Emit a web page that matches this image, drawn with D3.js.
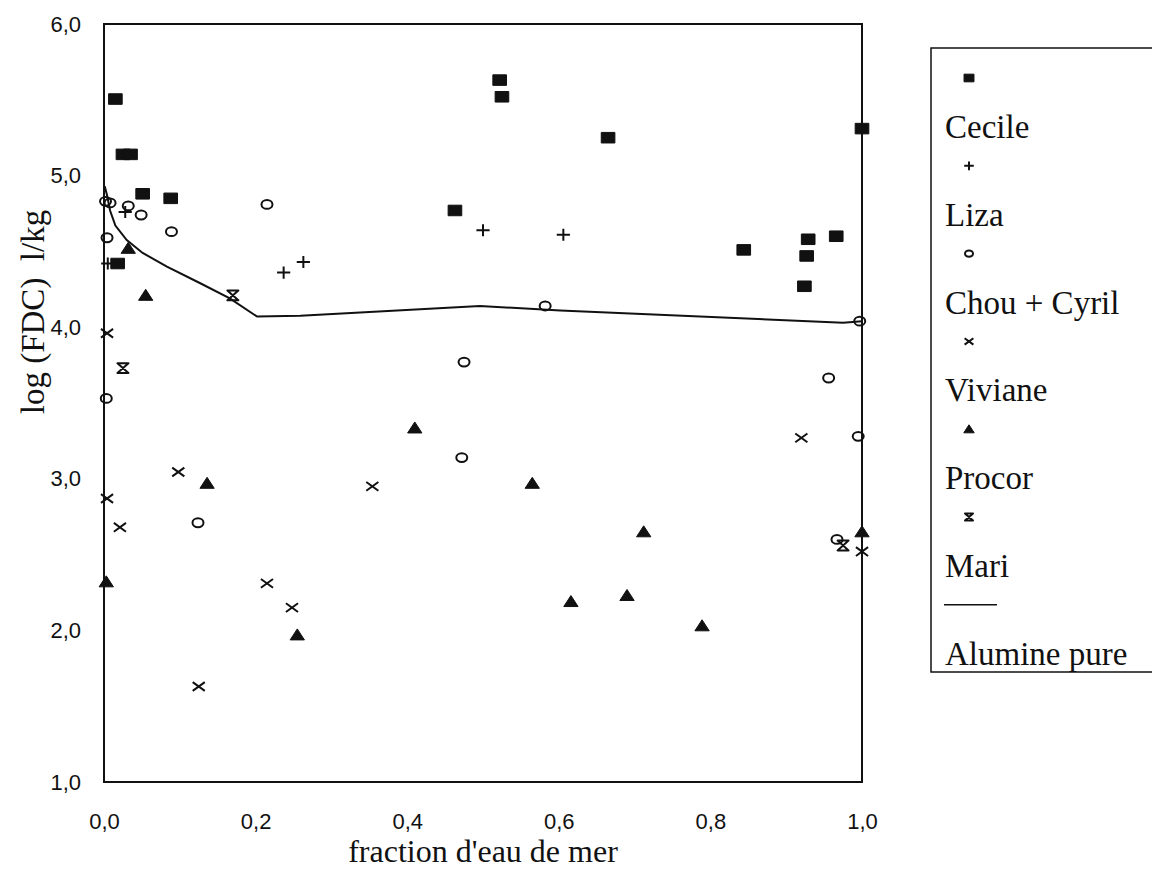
<!DOCTYPE html>
<html>
<head>
<meta charset="utf-8">
<script src="https://cdn.jsdelivr.net/npm/d3@7"></script>
<style>
  body { margin: 0; background: #fff; }
  svg { display: block; }
  .serif { font-family: "Liberation Serif", "Times New Roman", serif; fill: #111; }
</style>
</head>
<body>
<div id="chart"></div>
<script>
// values: [fraction d'eau de mer, log(FDC)]
let cecile = [[0.015, 5.505], [0.025, 5.14], [0.035, 5.14], [0.051, 4.88], [0.088, 4.85],
    [0.018, 4.42], [0.522, 5.63], [0.525, 5.52], [0.463, 4.77], [0.665, 5.25], [0.844, 4.51],
    [0.929, 4.58], [0.966, 4.60], [0.927, 4.47], [0.924, 4.27], [1.0, 5.31]];
let liza = [[0.028, 4.76], [0.005, 4.42], [0.237, 4.36], [0.263, 4.43], [0.500, 4.64], [0.606, 4.61]];
let chouCyril = [[0.002, 4.83], [0.008, 4.82], [0.032, 4.80], [0.049, 4.74], [0.089, 4.63],
    [0.004, 4.59], [0.215, 4.81], [0.003, 3.53], [0.124, 2.71], [0.475, 3.77], [0.472, 3.14],
    [0.582, 4.14], [0.956, 3.665], [0.995, 3.28], [0.997, 4.04], [0.967, 2.60]];
let viviane = [[0.004, 3.96], [0.098, 3.045], [0.004, 2.87], [0.021, 2.68], [0.215, 2.31],
    [0.248, 2.15], [0.125, 1.63], [0.354, 2.95], [0.920, 3.27], [1.0, 2.52]];
let procor = [[0.032, 4.52], [0.055, 4.21], [0.003, 2.32], [0.136, 2.97], [0.255, 1.97],
    [0.410, 3.335], [0.565, 2.97], [0.712, 2.65], [0.690, 2.23], [0.616, 2.19], [0.789, 2.03], [1.0, 2.65]];
let mari = [[0.025, 3.73], [0.170, 4.21], [0.975, 2.56]];

// "Alumine pure" model curve
let alumineX = [0.001, 0.004, 0.008, 0.015, 0.030, 0.051, 0.083, 0.127, 0.166, 0.202, 0.259, 0.496, 0.602, 0.975, 1.0];
let alumineY = [4.93, 4.87, 4.77, 4.67, 4.575, 4.49, 4.40, 4.29, 4.19, 4.07, 4.075, 4.14, 4.11, 4.03, 4.04];

let xTicks = [0, 0.2, 0.4, 0.6, 0.8, 1.0];
let yTicks = [1, 2, 3, 4, 5, 6];
let legendNames = ["Cecile", "Liza", "Chou + Cyril", "Viviane", "Procor", "Mari", "Alumine pure"];

let margin = {top: 24, left: 104},
    width = 758,
    height = 758;

let svg = d3.select("#chart")
    .append("svg")
    .attr("width", 1152)
    .attr("height", 869);

let g = svg.append("g")
    .attr("transform", "translate(" + margin.left + "," + margin.top + ")");

let x = d3.scaleLinear().domain([0, 1]).range([0, width]);
let y = d3.scaleLinear().domain([1, 6]).range([height, 0]);

let comma = function (v) { return d3.format(".1f")(v).replace(".", ","); };

// axes, no tick marks, just labels
let xAxis = g.append("g")
    .attr("transform", "translate(0," + height + ")")
    .call(d3.axisBottom(x).tickValues(xTicks).tickSize(0).tickPadding(31).tickFormat(comma));
xAxis.select(".domain").remove();

let yAxis = g.append("g")
    .call(d3.axisLeft(y).tickValues(yTicks).tickSize(0).tickPadding(23).tickFormat(comma));
yAxis.select(".domain").remove();

g.selectAll(".tick text")
    .attr("font-family", "'Liberation Sans', Arial, sans-serif")
    .attr("font-size", 22)
    .attr("fill", "#111");

// frame
g.append("rect")
    .attr("width", width)
    .attr("height", height)
    .attr("fill", "none")
    .attr("stroke", "#111")
    .attr("stroke-width", 2);

// marker shapes (path around 0,0)
let shapes = {
    square: function (s) { return "M" + (-s * 0.62) + "," + (-s * 0.48) + "h" + (s * 1.24) + "v" + (s * 0.96) + "h" + (-s * 1.24) + "Z"; },
    plus: function (s) { return "M" + (-s * 0.6) + ",0H" + (s * 0.6) + "M0," + (-s * 0.55) + "V" + (s * 0.55); },
    circle: null,
    cross: function (s) { return "M" + (-s * 0.55) + "," + (-s * 0.4) + "L" + (s * 0.55) + "," + (s * 0.4) + "M" + (-s * 0.55) + "," + (s * 0.4) + "L" + (s * 0.55) + "," + (-s * 0.4); },
    triangle: function (s) { return "M0," + (-s * 0.55) + "L" + (s * 0.65) + "," + (s * 0.45) + "L" + (-s * 0.65) + "," + (s * 0.45) + "Z"; },
    hourglass: function (s) { return "M" + (-s * 0.5) + "," + (-s * 0.45) + "H" + (s * 0.5) + "L" + (-s * 0.5) + "," + (s * 0.45) + "H" + (s * 0.5) + "Z"; }
};

let series = [
    {data: cecile, shape: "square", fill: true},
    {data: liza, shape: "plus", fill: false},
    {data: chouCyril, shape: "circle", fill: false},
    {data: viviane, shape: "cross", fill: false},
    {data: procor, shape: "triangle", fill: true},
    {data: mari, shape: "hourglass", fill: false}
];

function drawMarker(sel, shape, fill, s) {
    if (shape === "circle") {
        sel.append("ellipse")
            .attr("rx", s * 0.5)
            .attr("ry", s * 0.4)
            .attr("fill", "none")
            .attr("stroke", "#111")
            .attr("stroke-width", 2);
    } else {
        sel.append("path")
            .attr("d", shapes[shape](s))
            .attr("fill", fill ? "#111" : "none")
            .attr("stroke", "#111")
            .attr("stroke-width", fill ? 1 : 2)
            .attr("stroke-linejoin", "round");
    }
}

// the curve
let line = d3.line()
    .x(function (d) { return x(d[0]); })
    .y(function (d) { return y(d[1]); });

g.append("path")
    .datum(d3.zip(alumineX, alumineY))
    .attr("d", line)
    .attr("fill", "none")
    .attr("stroke", "#111")
    .attr("stroke-width", 2);

series.forEach(function (sr) {
    g.append("g")
        .selectAll("g")
        .data(sr.data)
        .enter()
        .append("g")
        .attr("transform", function (d) { return "translate(" + x(d[0]) + "," + y(d[1]) + ")"; })
        .each(function () { drawMarker(d3.select(this), sr.shape, sr.fill, 11); });
});

// axis titles
svg.append("text")
    .attr("class", "serif")
    .attr("x", margin.left + width / 2)
    .attr("y", 862)
    .attr("text-anchor", "middle")
    .attr("font-size", 32)
    .text("fraction d'eau de mer");

svg.append("text")
    .attr("class", "serif")
    .attr("transform", "translate(44," + 312 + ") rotate(-90)")
    .attr("text-anchor", "middle")
    .attr("font-size", 33)
    .style("white-space", "pre")
    .text("log (FDC)  l/kg");

// legend: marker row then name row
let legend = svg.append("g");
legend.append("rect")
    .attr("x", 931)
    .attr("y", 48)
    .attr("width", 240)
    .attr("height", 624)
    .attr("fill", "none")
    .attr("stroke", "#111")
    .attr("stroke-width", 1.5);

let step = 87.8;
legendNames.forEach(function (name, i) {
    let my = 78 + step * i;
    if (i < series.length) {
        let m = legend.append("g").attr("transform", "translate(969," + my + ")");
        drawMarker(m, series[i].shape, series[i].fill, 8);
    } else {
        legend.append("line")
            .attr("x1", 944).attr("x2", 997)
            .attr("y1", my).attr("y2", my)
            .attr("stroke", "#111")
            .attr("stroke-width", 1.5);
    }
    legend.append("text")
        .attr("class", "serif")
        .attr("x", 945)
        .attr("y", 138 + step * i)
        .attr("font-size", 33)
        .text(name);
});
</script>
</body>
</html>
